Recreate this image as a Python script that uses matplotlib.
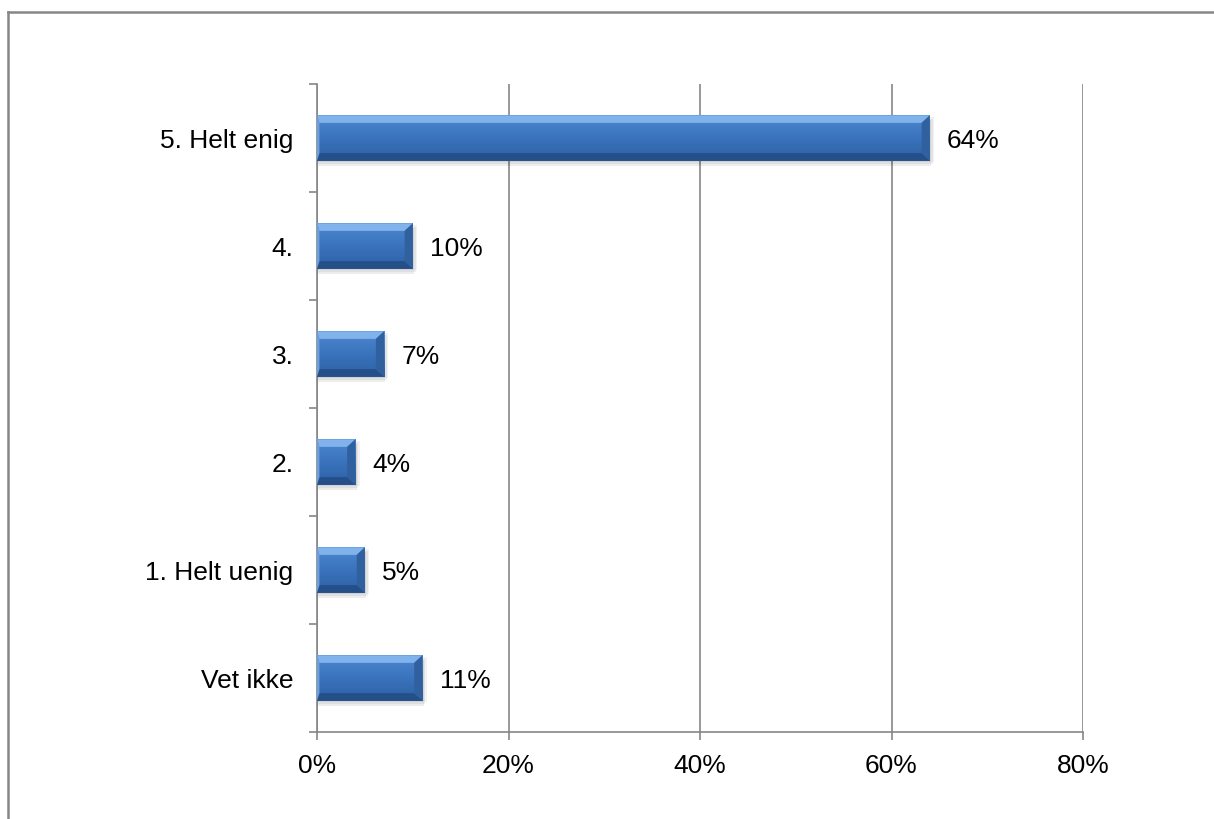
import numpy as np
import matplotlib.pyplot as plt
from matplotlib.patches import Polygon
from matplotlib.lines import Line2D
from matplotlib.colors import LinearSegmentedColormap

plt.rcParams['font.family'] = ['Liberation Sans', 'DejaVu Sans']

# Data
categories = ['Vet ikke', '1. Helt uenig', '2.', '3.', '4.', '5. Helt enig']
values = [11, 5, 4, 7, 10, 64]
xticks = [0, 20, 40, 60, 80]

fig = plt.figure(figsize=(12.14, 8.19), dpi=100)
ax = fig.add_axes([317 / 1214, 1 - 732 / 819, (1083 - 317) / 1214, (732 - 84) / 819])

ypos = np.arange(len(categories))
h = 0.42
bx = 0.85   # bevel width in % units
by = 0.07   # bevel height in category units

grad = np.linspace(0, 1, 64).reshape(-1, 1)
cmap = LinearSegmentedColormap.from_list('bar', ['#2c60a3', '#3a73bc', '#4c88d0'])

for y, v in zip(ypos, values):
    # soft shadow
    for k, a in enumerate([0.05, 0.06, 0.07]):
        ax.barh(y - 0.015 * (k + 1), v + 0.15 * (3 - k), height=h, left=0,
                color='#000000', alpha=a, lw=0, zorder=2)
    # body gradient
    ax.imshow(grad, extent=(0, v, y - h / 2, y + h / 2), origin='lower', cmap=cmap,
              aspect='auto', zorder=3)
    top, bot = y + h / 2, y - h / 2
    # top bevel
    ax.add_patch(Polygon([(0, top), (v, top), (v - bx, top - by), (bx * 0.3, top - by)],
                         closed=True, color='#80b3ec', lw=0, zorder=4))
    # bottom bevel
    ax.add_patch(Polygon([(0, bot), (v, bot), (v - bx, bot + by), (bx * 0.3, bot + by)],
                         closed=True, color='#254f88', lw=0, zorder=4))
    # right bevel
    ax.add_patch(Polygon([(v, top), (v, bot), (v - bx, bot + by), (v - bx, top - by)],
                         closed=True, color='#31609e', lw=0, zorder=4))
    # left bevel
    ax.add_patch(Polygon([(0, top), (0, bot), (bx * 0.3, bot + by), (bx * 0.3, top - by)],
                         closed=True, color='#6aa0e0', lw=0, zorder=4))
    ax.text(v + 1.8, y, f'{v}%', va='center_baseline', ha='left', fontsize=19,
            color='#000000')

ax.set_xlim(0, 80)
ax.set_ylim(-0.5, len(categories) - 0.5)
ax.set_xticks(xticks)
ax.set_xticklabels([f'{t}%' for t in xticks], fontsize=19)
ax.set_yticks(ypos)
ax.set_yticklabels(categories, fontsize=19)
ax.set_yticks(np.arange(-0.5, len(categories), 1), minor=True)
ax.tick_params(axis='y', which='major', length=0, pad=17)
ax.tick_params(axis='y', which='minor', length=6, color='#868686', width=1.2)
ax.tick_params(axis='x', length=6, color='#868686', width=1.2, pad=10)
ax.xaxis.grid(True, color='#868686', linewidth=1.2)
ax.set_axisbelow(True)
for s in ['top', 'right']:
    ax.spines[s].set_visible(False)
for s in ['left', 'bottom']:
    ax.spines[s].set_color('#868686')
    ax.spines[s].set_linewidth(1.2)

# outer frame (top and left)
fig.add_artist(Line2D([7.5 / 1214, 7.5 / 1214], [0, 1 - 11.5 / 819],
                      transform=fig.transFigure, color='#868686', lw=1.8))
fig.add_artist(Line2D([7.5 / 1214, 1], [1 - 11.5 / 819, 1 - 11.5 / 819],
                      transform=fig.transFigure, color='#868686', lw=1.8))

fig.savefig('out.png', dpi=100)
